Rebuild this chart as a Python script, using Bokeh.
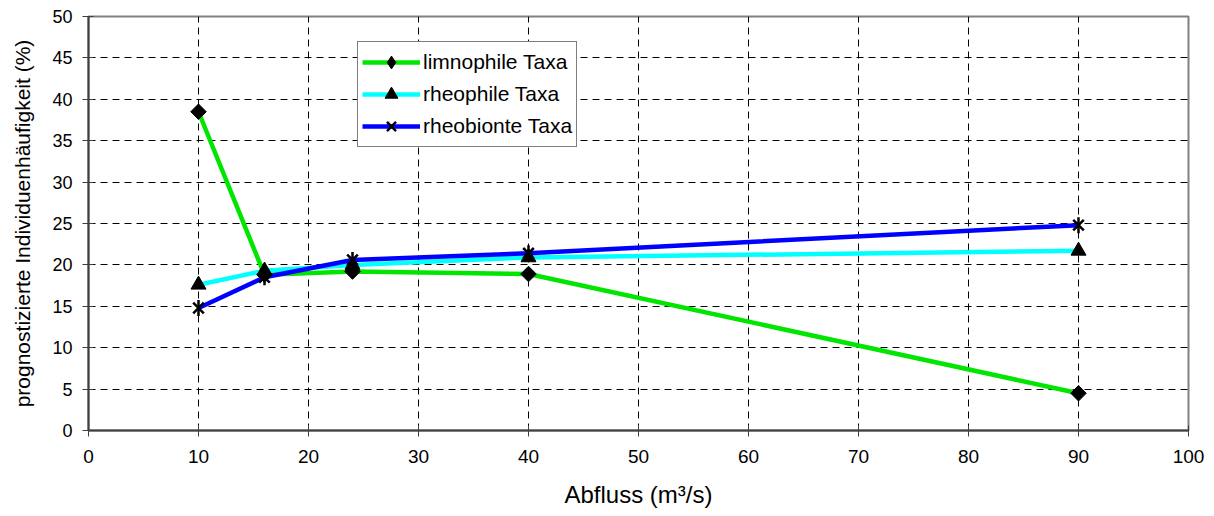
import math
from bokeh.plotting import figure
from bokeh.models import FixedTicker, Legend, LegendItem, Range1d
from bokeh.embed import file_html
from bokeh.resources import INLINE

abfluss = [10, 16, 24, 40, 90]
limnophile = [38.5, 18.8, 19.2, 18.9, 4.5]
rheophile = [17.6, 19.3, 20.0, 20.9, 21.7]
rheobionte = [14.8, 18.5, 20.6, 21.4, 24.8]

x_ticks = list(range(0, 101, 10))
y_ticks = list(range(0, 51, 5))

FONT = "Liberation Sans"

p = figure(width=1214, height=516, output_backend="svg", toolbar_location=None,
           x_range=Range1d(0, 100), y_range=Range1d(0, 50),
           min_border_left=88, min_border_right=26, min_border_top=16, min_border_bottom=86)
p.outline_line_color = "#808080"
p.outline_line_width = 2
p.background_fill_color = "white"
p.border_fill_color = "white"

for ax in (p.xaxis, p.yaxis):
    ax.axis_line_color = "#404040"
    ax.axis_line_width = 2
    ax.major_tick_line_color = "#404040"
    ax.major_tick_in = 5
    ax.major_tick_out = 6
    ax.minor_tick_line_color = None
    ax.major_label_text_font = FONT
    ax.major_label_text_color = "black"
    ax.axis_label_text_font = FONT
    ax.axis_label_text_font_style = "normal"
    ax.axis_label_text_color = "black"

p.xaxis.major_label_text_font_size = "19px"
p.yaxis.major_label_text_font_size = "18px"
p.xaxis.axis_label_text_font_size = "24px"
p.yaxis.axis_label_text_font_size = "21px"

p.xaxis.ticker = FixedTicker(ticks=x_ticks)
p.yaxis.ticker = FixedTicker(ticks=y_ticks)
p.xaxis.major_label_standoff = 13
p.yaxis.major_label_standoff = 10
p.xaxis.axis_label = "Abfluss (m³/s)"
p.yaxis.axis_label = "prognostizierte Individuenhäufigkeit (%)"
p.xaxis.axis_label_standoff = 15
p.yaxis.axis_label_standoff = 15

for g in (p.xgrid, p.ygrid):
    g.grid_line_color = "black"
    g.grid_line_dash = "7 5"
    g.grid_line_width = 1

green = "#00e600"
cyan = "#00ffff"
blue = "#0000ff"

l1 = p.line(abfluss, limnophile, line_color=green, line_width=4.5)
l2 = p.line(abfluss, rheophile, line_color=cyan, line_width=4.5)
l3 = p.line(abfluss, rheobionte, line_color=blue, line_width=4.5)
# diamond drawn underneath the rotated square; used for the legend glyph
d1 = p.scatter(abfluss, limnophile, marker="diamond", size=11,
               fill_color="black", line_color="black")
s1 = p.scatter(abfluss, limnophile, marker="square", angle=math.pi / 4, size=11,
               fill_color="black", line_color="black")
s2 = p.scatter(abfluss, rheophile, marker="triangle", size=15, fill_color="black", line_color="black")
s3a = p.scatter(abfluss, rheobionte, marker="x", size=15, line_color="black", line_width=2.5)
s3b = p.scatter(abfluss, rheobionte, marker="dash", angle=math.pi / 2, size=16,
                line_color="black", line_width=2.5)

legend = Legend(items=[
    LegendItem(label="limnophile Taxa", renderers=[l1, d1]),
    LegendItem(label="rheophile Taxa", renderers=[l2, s2]),
    LegendItem(label="rheobionte Taxa", renderers=[l3, s3a]),
], orientation="vertical")
legend.label_text_font = FONT
legend.label_text_font_size = "21px"
legend.label_text_color = "black"
legend.glyph_width = 58
legend.glyph_height = 32
legend.label_standoff = 3
legend.spacing = 0
legend.padding = 4
legend.margin = 0
legend.border_line_color = "black"
legend.border_line_width = 1
legend.background_fill_color = "white"
legend.background_fill_alpha = 1
legend.location = (269, 283)
p.add_layout(legend, "center")

open("out.html", "w").write(file_html(p, INLINE))
